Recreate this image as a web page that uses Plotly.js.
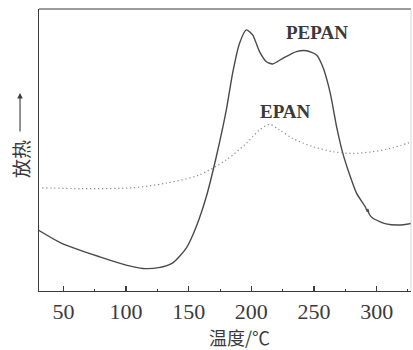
<!DOCTYPE html>
<html>
<head>
<meta charset="utf-8">
<script src="https://cdn.plot.ly/plotly-3.0.1.min.js"></script>
<style>
html,body{margin:0;padding:0;background:#fff;}
#chart{width:413px;height:350px;}
</style>
</head>
<body>
<div id="chart"></div>
<script>
// Temperature (°C) and heat flow (arbitrary units, exothermic up)
const pepanT = [30, 49.5, 79, 100, 113.5, 126, 137, 148, 156, 164, 172, 180, 185, 190.5, 196, 201, 206.5, 212, 217, 225, 236, 244, 252, 257, 263, 268, 273, 279, 284, 291, 292.5, 293, 294, 297, 307.5, 318, 328];
const pepanY = [21.6, 16.7, 12.1, 9.2, 8.0, 8.3, 9.9, 15.2, 22.8, 33.4, 47.6, 64.2, 77.2, 87.8, 92.6, 90.8, 84.9, 81.3, 80.5, 82.5, 84.9, 85.2, 83.7, 79.5, 70.1, 58.3, 48.8, 40.5, 34.6, 29.8, 28.2, 29.0, 27.3, 25.8, 23.8, 23.4, 24.0];

const epanT = [33, 65, 105, 131.5, 158, 180, 196, 206.5, 214.5, 222.5, 233, 249, 265, 281, 297, 313, 328];
const epanY = [36.6, 36.3, 36.6, 38.2, 41.1, 46.5, 52.4, 57.1, 59.1, 57.1, 54.1, 51.2, 49.4, 48.8, 49.4, 50.8, 52.9];

const xTickVals = [50, 100, 150, 200, 250, 300];
const xTickText = ['50', '100', '150', '200', '250', '300'];
const seriesLabels = ['PEPAN', 'EPAN'];
const xTitle = '温度/℃';
const yTitle = '放热';

const ink = '#3a3a3a';
const serif = '"Liberation Serif", serif';
const cjk = '"Noto Sans CJK SC", sans-serif';

const traces = [
  {x: pepanT, y: pepanY, mode: 'lines', line: {color: '#4a4a4a', width: 1.4, shape: 'spline', smoothing: 0.6}, name: seriesLabels[0], hoverinfo: 'skip'},
  {x: epanT, y: epanY, mode: 'lines', line: {color: '#888', width: 1.2, dash: '1.2px,2.8px', shape: 'spline', smoothing: 0.8}, name: seriesLabels[1], hoverinfo: 'skip'}
];

const layout = {
  width: 413, height: 350,
  margin: {l: 39, r: 2, t: 9, b: 59},
  paper_bgcolor: '#fff', plot_bgcolor: '#fff',
  showlegend: false,
  xaxis: {
    range: [30.5, 327.4],
    tickvals: xTickVals, ticktext: xTickText,
    ticks: 'inside', ticklen: 5, tickwidth: 1.2, tickcolor: ink,
    minor: {dtick: 25, tick0: 25, ticks: 'inside', ticklen: 2, tickwidth: 1, tickcolor: ink},
    showgrid: false, zeroline: false,
    showline: true, linecolor: ink, linewidth: 1.3,
    tickfont: {family: serif, size: 22, color: ink}
  },
  yaxis: {
    range: [0, 100],
    showticklabels: false, ticks: '', showgrid: false, zeroline: false,
    showline: true, linecolor: ink, linewidth: 1.3
  },
  shapes: [
    {type: 'line', xref: 'paper', yref: 'paper', x0: 0, x1: 1, y0: 1, y1: 1, line: {color: ink, width: 1.2}},
    {type: 'line', xref: 'paper', yref: 'paper', x0: 1, x1: 1, y0: 0, y1: 1, line: {color: '#d8d8d8', width: 1}}
  ],
  annotations: [
    {x: 252.7, y: 91.5, xref: 'x', yref: 'y', xanchor: 'center', yanchor: 'middle', text: '<b>' + seriesLabels[0] + '</b>', showarrow: false, font: {family: serif, size: 19, color: ink}},
    {x: 227, y: 63.5, xref: 'x', yref: 'y', xanchor: 'center', yanchor: 'middle', text: '<b>' + seriesLabels[1] + '</b>', showarrow: false, font: {family: serif, size: 19, color: ink}},
    {x: 0.54, y: -0.163, xref: 'paper', yref: 'paper', xanchor: 'center', yanchor: 'middle', text: xTitle, showarrow: false, font: {family: cjk, size: 18, color: ink}},
    {x: -0.051, y: 0.468, xref: 'paper', yref: 'paper', xanchor: 'center', yanchor: 'middle', text: yTitle, textangle: -90, showarrow: false, font: {family: cjk, size: 19, color: ink}},
    {x: -0.051, y: 0.702, xref: 'paper', yref: 'paper', ax: 0, ay: 40, axref: 'pixel', ayref: 'pixel', text: '', showarrow: true, arrowhead: 2, arrowsize: 1, arrowwidth: 1.1, arrowcolor: ink}
  ]
};

Plotly.newPlot('chart', traces, layout, {displayModeBar: false, staticPlot: true});
</script>
</body>
</html>
